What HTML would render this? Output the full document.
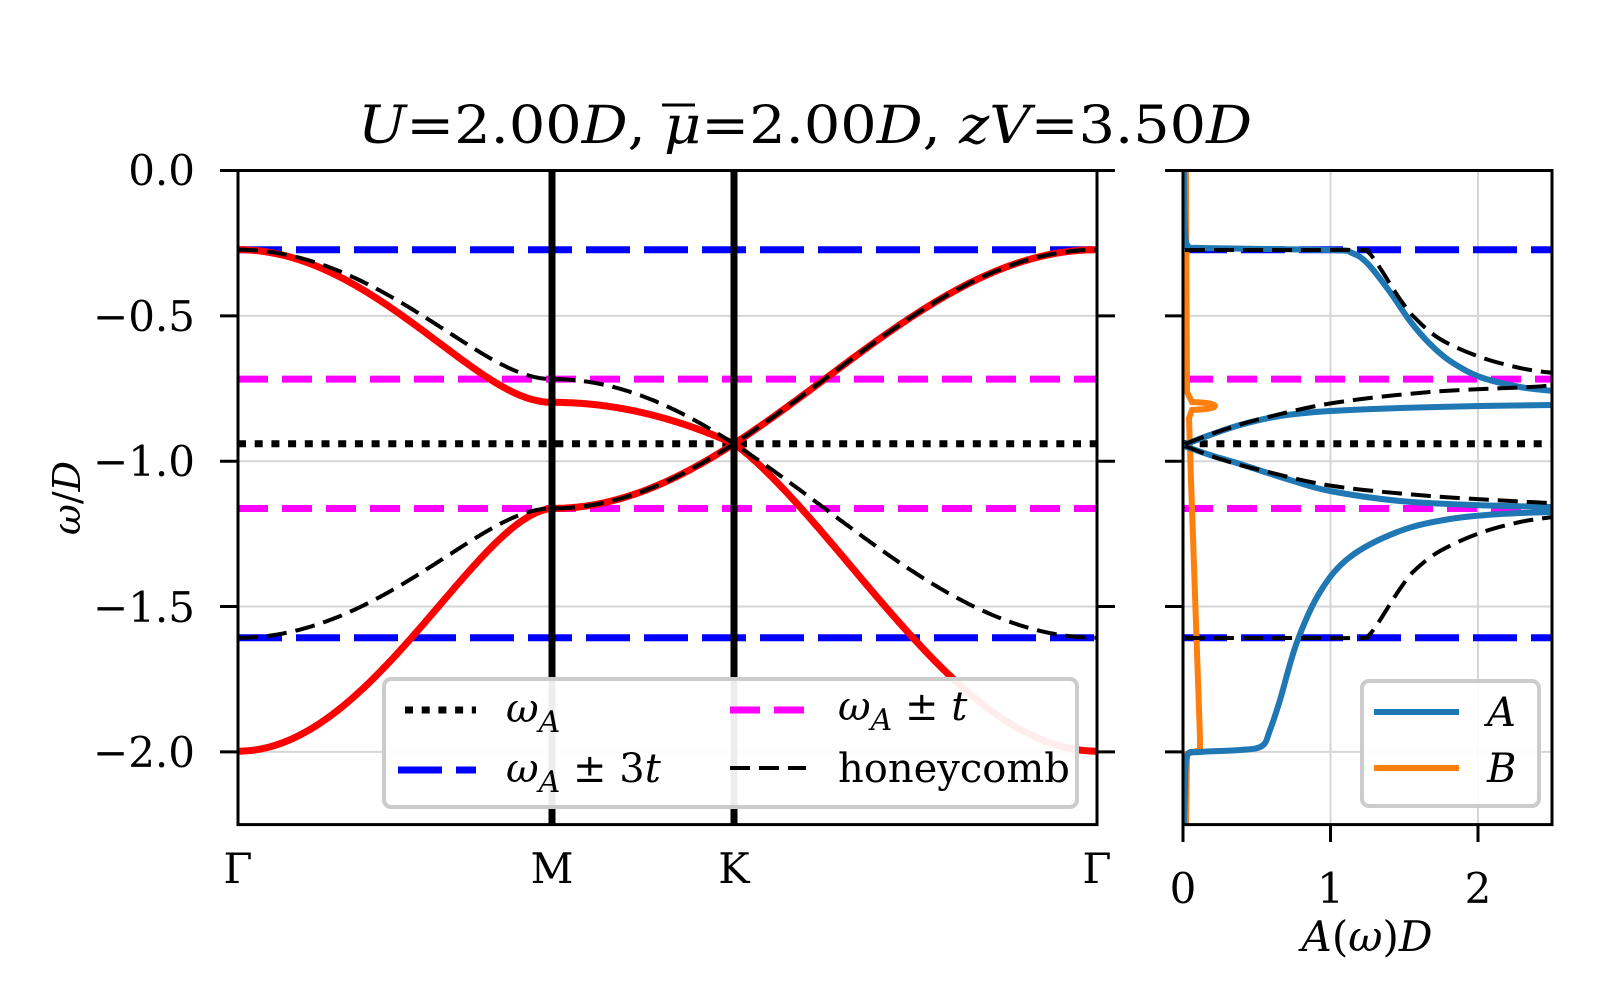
<!DOCTYPE html>
<html><head><meta charset="utf-8"><style>
html,body{margin:0;padding:0;background:#fff;}
svg{display:block;}
text{font-family:"DejaVu Serif","Liberation Serif",serif;fill:#000;}
</style></head><body>
<svg id="s" width="1600" height="1000" viewBox="0 0 1600 1000" xmlns="http://www.w3.org/2000/svg">
<defs>
<clipPath id="cl"><rect x="238" y="170.5" width="859" height="654"/></clipPath>
<clipPath id="cr"><rect x="1183" y="170.5" width="369" height="654"/></clipPath>
</defs>
<text x="358" y="143" font-size="52" textLength="894" lengthAdjust="spacingAndGlyphs"><tspan font-style="italic">U</tspan>=2.00<tspan font-style="italic">D</tspan>, <tspan font-style="italic">μ</tspan>=2.00<tspan font-style="italic">D</tspan>, <tspan font-style="italic">zV</tspan>=3.50<tspan font-style="italic">D</tspan></text>
<line x1="662" y1="105" x2="695" y2="105" stroke="#000" stroke-width="3"/>

<g id="gl"></g>
<g id="gr"></g>

<g font-size="42" text-anchor="end">
<text x="195" y="185">0.0</text>
<text x="195" y="331">−0.5</text>
<text x="195" y="476">−1.0</text>
<text x="195" y="622">−1.5</text>
<text x="195" y="767">−2.0</text>
</g>
<g font-size="42" text-anchor="middle">
<text x="238" y="883">Γ</text>
<text x="552" y="883">M</text>
<text x="734" y="883">K</text>
<text x="1097" y="883">Γ</text>
<text x="1183" y="903">0</text>
<text x="1330.5" y="903">1</text>
<text x="1478" y="903">2</text>
</g>
<text x="1367" y="951" font-size="42" text-anchor="middle"><tspan font-style="italic">A</tspan>(<tspan font-style="italic">ω</tspan>)<tspan font-style="italic">D</tspan></text>
<text transform="translate(80,498) rotate(-90)" font-size="38" text-anchor="middle"><tspan font-style="italic">ω</tspan>/<tspan font-style="italic">D</tspan></text>
</svg>
<script>
var NS="http://www.w3.org/2000/svg";
function el(p,tag,a){var e=document.createElementNS(NS,tag);for(var k in a)e.setAttribute(k,a[k]);p.appendChild(e);return e;}
var gl=document.getElementById('gl'),gr=document.getElementById('gr');
var Y=function(w){return 170.5+290.7*(-w);};
var wA=-0.94,t=0.2225;
[0,-0.5,-1,-1.5,-2].forEach(function(w){
 el(gl,'line',{x1:238,x2:1097,y1:Y(w),y2:Y(w),stroke:'#d6d6d6','stroke-width':2});
 el(gr,'line',{x1:1183,x2:1552,y1:Y(w),y2:Y(w),stroke:'#d6d6d6','stroke-width':2});
});
[1,2].forEach(function(a){var x=1183+147.5*a;el(gr,'line',{x1:x,x2:x,y1:170.5,y2:824.6,stroke:'#d6d6d6','stroke-width':2});});
function hl(g,x1,x2,w,col,da,sw){el(g,'line',{x1:x1,x2:x2,y1:Y(w),y2:Y(w),stroke:col,'stroke-width':sw,'stroke-dasharray':da});}
function refl(g,x1,x2){
 hl(g,x1,x2,wA,'#000','8 8.7',7);
 hl(g,x1,x2,wA+3*t,'#0000ff','44 14',7);hl(g,x1,x2,wA-3*t,'#0000ff','44 14',7);
 hl(g,x1,x2,wA+t,'#ff00ff','30 14',7);hl(g,x1,x2,wA-t,'#ff00ff','30 14',7);
}
var L=[1/Math.sqrt(3),1/3,2/3],T=L[0]+L[1]+L[2];
function fk(kx,ky){var c1=kx,c2=kx/2+ky*Math.sqrt(3)/2;return Math.sqrt(Math.max(0,3+2*Math.cos(c1)+2*Math.cos(c2)+2*Math.cos(c1-c2)));}
var P=[[0,0],[Math.PI,Math.PI/Math.sqrt(3)],[4*Math.PI/3,0],[0,0]];
var hu=[],hd=[],r1=[],r2=[];
var N=300;
for(var seg=0;seg<3;seg++){
 for(var i=0;i<=N;i++){
  var v=i/N;var kx=P[seg][0]+(P[seg+1][0]-P[seg][0])*v,ky=P[seg][1]+(P[seg+1][1]-P[seg][1])*v;
  var s=(seg==0?0:(seg==1?L[0]:L[0]+L[1]))+L[seg]*v;
  var x=238+s/T*859;var f=fk(kx,ky);var up=wA+t*f,lo=wA-t*f;
  hu.push([x,Y(up)]);hd.push([x,Y(lo)]);
  var a,b;
  if(seg==0){a=up-0.08*Math.pow(Math.sin(Math.PI*v/2),2);b=lo-0.39*Math.pow(Math.cos(Math.PI*v/2),1.5);}
  else if(seg==1){a=up-0.08*Math.cos(Math.PI*v/2);b=lo;}
  else {a=lo-0.39*Math.pow(Math.sin(Math.PI*v/2),1.5);b=up;}
  r1.push([x,Y(a)]);r2.push([x,Y(b)]);
 }
}
function pl(pts){return pts.map(function(p,i){return (i?'L':'M')+p[0].toFixed(1)+' '+p[1].toFixed(1);}).join('');}
var cgl=el(gl,'g',{'clip-path':'url(#cl)'});
refl(cgl,238,1097);
el(cgl,'path',{d:pl(r1),fill:'none',stroke:'#ff0000','stroke-width':7});
el(cgl,'path',{d:pl(r2),fill:'none',stroke:'#ff0000','stroke-width':7});
el(cgl,'path',{d:pl(hu),fill:'none',stroke:'#000','stroke-width':4,'stroke-dasharray':'20 9'});
el(cgl,'path',{d:pl(hd),fill:'none',stroke:'#000','stroke-width':4,'stroke-dasharray':'20 9'});
el(gl,'line',{x1:552,x2:552,y1:170.5,y2:824.6,stroke:'#000','stroke-width':7});
el(gl,'line',{x1:734,x2:734,y1:170.5,y2:824.6,stroke:'#000','stroke-width':7});
function cr(pts){var d='M'+pts[0][0]+' '+pts[0][1];
 for(var i=0;i<pts.length-1;i++){var p0=pts[Math.max(0,i-1)],p1=pts[i],p2=pts[i+1],p3=pts[Math.min(pts.length-1,i+2)];
 d+='C'+(p1[0]+(p2[0]-p0[0])/6).toFixed(1)+' '+(p1[1]+(p2[1]-p0[1])/6).toFixed(1)+' '+(p2[0]-(p3[0]-p1[0])/6).toFixed(1)+' '+(p2[1]-(p3[1]-p1[1])/6).toFixed(1)+' '+p2[0]+' '+p2[1];}
 return d;}
var cgr=el(gr,'g',{'clip-path':'url(#cr)'});
refl(cgr,1183,1552);
var B='#1f77b4',O='#ff7f0e';
var bl=[
 [[1184,170],[1185,230],[1188,246],[1200,248],[1330,250],[1352,253],[1368,264],[1390,292],[1410,321],[1430,344],[1450,361],[1480,377],[1520,387],[1553,391]],
 [[1184,445],[1210,435],[1240,425],[1280,416],[1330,411],[1400,408],[1480,406],[1553,405]],
 [[1184,446],[1210,455],[1240,464],[1290,480],[1330,491],[1400,501],[1473,505],[1553,507]],
 [[1184,826],[1185,790],[1187,756],[1200,752],[1240,750],[1262,746],[1270,730],[1280,700],[1297,642],[1320,592],[1350,557],[1400,531],[1450,519],[1500,514],[1553,512]]
];
var dl=[
 [[1185,250],[1300,250],[1362,250],[1368,252],[1374,259],[1382,271],[1392,287],[1402,302],[1414,317],[1440,339],[1480,357],[1520,368],[1553,373]],
 [[1185,444],[1220,431],[1260,419],[1333,403],[1430,392],[1530,387],[1553,385]],
 [[1185,446],[1220,459],[1260,470],[1333,486],[1430,496],[1530,502],[1553,503]],
 [[1185,638],[1300,638],[1362,638],[1368,636],[1374,629],[1382,617],[1392,601],[1402,586],[1414,571],[1440,551],[1480,533],[1520,522],[1553,517]]
];
el(cgr,'path',{d:'M1186 170L1187 392L1192 402Q1215 403 1215 406Q1215 409 1192 410L1189 418L1191 480L1200 738L1200 750L1187 754L1186 826',fill:'none',stroke:O,'stroke-width':6});
bl.forEach(function(p){el(cgr,'path',{d:cr(p),fill:'none',stroke:B,'stroke-width':6});});
dl.forEach(function(p){el(cgr,'path',{d:cr(p),fill:'none',stroke:'#000','stroke-width':4,'stroke-dasharray':'20 9'});});
function box(g,x1,x2){el(g,'rect',{x:x1,y:170.5,width:x2-x1,height:654.1,fill:'none',stroke:'#000','stroke-width':3});}
box(gl,238,1097);box(gr,1183,1552);
[0,-0.5,-1,-1.5,-2].forEach(function(w){
 el(gl,'line',{x1:220,x2:238,y1:Y(w),y2:Y(w),stroke:'#000','stroke-width':3});
 el(gl,'line',{x1:1097,x2:1115,y1:Y(w),y2:Y(w),stroke:'#000','stroke-width':3});
 el(gr,'line',{x1:1165,x2:1183,y1:Y(w),y2:Y(w),stroke:'#000','stroke-width':3});
});
[0,1,2].forEach(function(a){var x=1183+147.5*a;el(gr,'line',{x1:x,x2:x,y1:824.6,y2:842,stroke:'#000','stroke-width':3});});
el(gl,'rect',{x:384,y:679,width:693,height:128,rx:7,fill:'rgba(255,255,255,0.93)',stroke:'#cccccc','stroke-width':4});
function lh(g,x1,x2,y,col,da,sw){el(g,'line',{x1:x1,x2:x2,y1:y,y2:y,stroke:col,'stroke-width':sw,'stroke-dasharray':da});}
lh(gl,405,476,710,'#000','8 8.7',7);
lh(gl,398,476,770,'#0000ff','44 14',7);
lh(gl,730,806,710,'#ff00ff','30 14',7);
lh(gl,730,806,768,'#000','20 9',4);
function tx(g,x,y,html){var e=el(g,'text',{x:x,y:y,'font-size':40});e.innerHTML=html;}
tx(gl,506,722,'<tspan font-style="italic">ω</tspan><tspan font-style="italic" font-size="30" dy="10">A</tspan>');
tx(gl,506,782,'<tspan font-style="italic">ω</tspan><tspan font-style="italic" font-size="30" dy="10">A</tspan><tspan dy="-10"> ± 3</tspan><tspan font-style="italic">t</tspan>');
tx(gl,838,720,'<tspan font-style="italic">ω</tspan><tspan font-style="italic" font-size="30" dy="10">A</tspan><tspan dy="-10"> ± </tspan><tspan font-style="italic">t</tspan>');
tx(gl,838,782,'honeycomb');
el(gr,'rect',{x:1362,y:681,width:177,height:125,rx:7,fill:'rgba(255,255,255,0.93)',stroke:'#cccccc','stroke-width':4});
lh(gr,1374,1459,712,B,'',6);
lh(gr,1374,1459,768,O,'',6);
tx(gr,1487,726,'<tspan font-style="italic">A</tspan>');
tx(gr,1487,782,'<tspan font-style="italic">B</tspan>');
</script>
</body></html>
